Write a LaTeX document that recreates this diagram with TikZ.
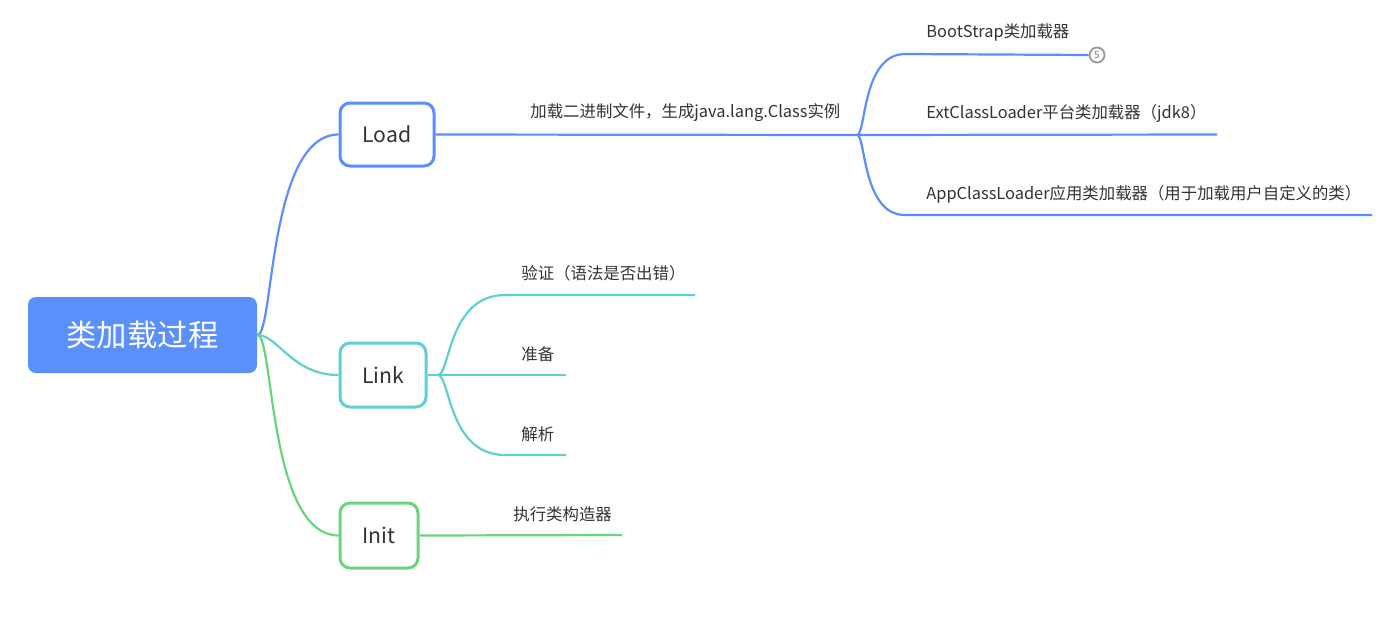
\documentclass[tikz,border=0pt]{standalone}
\usepackage{fontspec}
\setmainfont{Noto Sans CJK SC}
\definecolor{blueC}{RGB}{91,143,249}
\definecolor{tealC}{RGB}{95,207,207}
\definecolor{greenC}{RGB}{106,212,124}
\definecolor{textC}{RGB}{51,51,51}
\begin{document}
\begin{tikzpicture}[x=0.5pt,y=-0.5pt,
  topic/.style={draw=#1, line width=1.5pt, rounded corners=5pt, fill=white, text=textC,
    font=\fontsize{10.6}{12}\selectfont, minimum height=31.5pt, inner sep=0},
  lbl/.style={anchor=west, inner sep=0, text=textC, font=\fontsize{8.2}{10}\selectfont},
  conn/.style={draw=#1, line width=1.1pt},
]
\useasboundingbox (0,0) rectangle (1400,627);
% main nodes
\node[fill=blueC, rounded corners=4pt, minimum width=114.5pt, minimum height=38pt, inner sep=0,
  text=white, font=\fontsize{15.2}{18}\selectfont] (root) at (142.5,335) {类加载过程};
\node[topic=blueC, minimum width=47pt] (load) at (387,134.5) {Load};
\node[topic=tealC, minimum width=43pt, minimum height=32pt] (link) at (383,375) {Link};
\node[topic=greenC, minimum width=39pt, minimum height=32.5pt] (init) at (379,535.5) {Init};

% root connectors
\draw[conn=blueC] (root.east) .. controls (274,335) and (268,135) .. (load.west);
\draw[conn=tealC] (root.east) .. controls (278,335) and (292,375) .. (link.west);
\draw[conn=greenC] (root.east) .. controls (274,335) and (268,535) .. (init.west);

% Load branch
\coordinate (lj) at (857,135);
\coordinate (bsStart) at (905,54);
\coordinate (extEnd) at (1217,134.5);
\coordinate (appStart) at (905,215);
\coordinate (appEnd) at (1372,215);
\node[circle, draw=gray!80, fill=white, line width=0.9pt, minimum size=7.5pt, inner sep=0,
  text=gray, font=\fontsize{5}{6}\selectfont] (cnt) at (1097,55) {5};
\draw[conn=blueC] (load.east) -- (lj);
\draw[conn=blueC] (lj) .. controls (866,135) and (862,54) .. (bsStart) -- (cnt.west);
\draw[conn=blueC] (lj) -- (extEnd);
\draw[conn=blueC] (lj) .. controls (866,135) and (862,215) .. (appStart) -- (appEnd);
\node[lbl] (l0) at (530,113) {加载二进制文件，生成java.lang.Class实例};
\node[lbl] (l1) at (926,32) {BootStrap类加载器};
\node[lbl] (l2) at (926,113) {ExtClassLoader平台类加载器（jdk8）};
\node[lbl] (l3) at (926,194) {AppClassLoader应用类加载器（用于加载用户自定义的类）};

% Link branch
\coordinate (lk) at (438,375);
\coordinate (vStart) at (505,295);
\coordinate (vEnd) at (695,295);
\coordinate (pEnd) at (566,375);
\coordinate (jStart) at (505,455);
\coordinate (jEnd) at (566,455);
\draw[conn=tealC] (link.east) -- (lk);
\draw[conn=tealC] (lk) .. controls (450,375) and (448,295) .. (vStart) -- (vEnd);
\draw[conn=tealC] (lk) -- (pEnd);
\draw[conn=tealC] (lk) .. controls (450,375) and (448,455) .. (jStart) -- (jEnd);
\node[lbl] (k1) at (521,273) {验证（语法是否出错）};
\node[lbl] (k2) at (521,354) {准备};
\node[lbl] (k3) at (521,434) {解析};

% Init branch
\coordinate (iEnd) at (622,535);
\draw[conn=greenC] (init.east) -- (iEnd);
\node[lbl] (i1) at (513,514) {执行类构造器};
\end{tikzpicture}
\end{document}
